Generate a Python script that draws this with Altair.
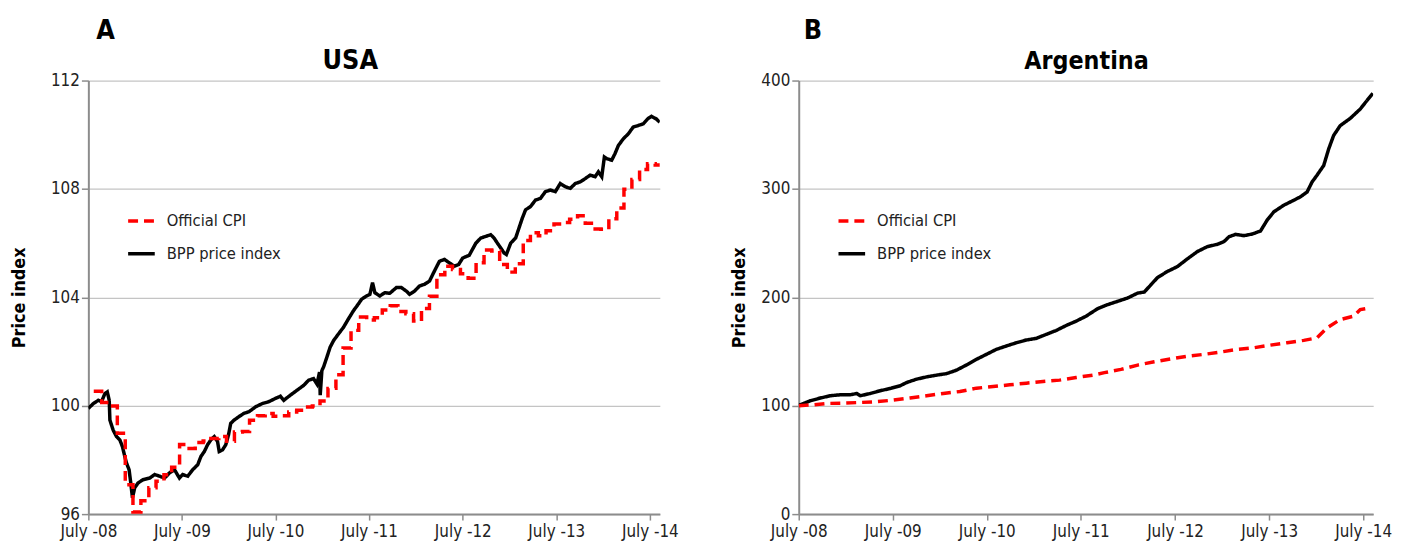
import altair as alt
import pandas as pd

FONT = "DejaVu Sans Condensed, DejaVu Sans, sans-serif"

SERIES = ["Official CPI", "BPP price index"]

# ---------------- USA ----------------
us_bpp_t = [2008.500, 2008.553, 2008.606, 2008.641, 2008.677, 2008.702, 2008.723, 2008.730,
            2008.765, 2008.801, 2008.836, 2008.864, 2008.889, 2008.907, 2008.935, 2008.953,
            2008.971, 2008.995, 2009.031, 2009.084, 2009.155, 2009.208, 2009.261, 2009.314,
            2009.367, 2009.420, 2009.473, 2009.508, 2009.562, 2009.615, 2009.668, 2009.703,
            2009.739, 2009.774, 2009.809, 2009.845, 2009.880, 2009.898, 2009.933, 2009.968,
            2009.997, 2010.021, 2010.057, 2010.110, 2010.163, 2010.217, 2010.287, 2010.358,
            2010.429, 2010.499, 2010.552, 2010.588, 2010.658, 2010.729, 2010.800, 2010.853,
            2010.906, 2010.942, 2010.970, 2010.977, 2010.995, 2011.013, 2011.048, 2011.083,
            2011.119, 2011.172, 2011.225, 2011.278, 2011.331, 2011.384, 2011.419, 2011.472,
            2011.508, 2011.536, 2011.561, 2011.614, 2011.667, 2011.720, 2011.791, 2011.844,
            2011.897, 2011.932, 2011.985, 2012.038, 2012.091, 2012.145, 2012.180, 2012.215,
            2012.251, 2012.304, 2012.357, 2012.410, 2012.456, 2012.499, 2012.569, 2012.640,
            2012.693, 2012.746, 2012.799, 2012.834, 2012.870, 2012.906, 2012.941, 2012.966,
            2013.012, 2013.065, 2013.100, 2013.136, 2013.171, 2013.224, 2013.277, 2013.330,
            2013.383, 2013.436, 2013.489, 2013.542, 2013.596, 2013.649, 2013.702, 2013.755,
            2013.808, 2013.861, 2013.914, 2013.949, 2013.985, 2014.013, 2014.038, 2014.091,
            2014.126, 2014.162, 2014.215, 2014.268, 2014.320, 2014.374, 2014.427, 2014.480,
            2014.516, 2014.569, 2014.604]
us_bpp_v = [99.90, 100.08, 100.20, 100.15, 100.45, 100.51, 100.20, 99.47,
            99.10, 98.86, 98.74, 98.49, 98.13, 97.89, 97.64, 97.15,
            96.60, 96.97, 97.15, 97.27, 97.33, 97.46, 97.40, 97.33,
            97.52, 97.64, 97.33, 97.46, 97.40, 97.64, 97.82, 98.13,
            98.31, 98.56, 98.74, 98.86, 98.68, 98.31, 98.37, 98.56,
            98.92, 99.35, 99.47, 99.60, 99.72, 99.78, 99.96, 100.08,
            100.15, 100.27, 100.35, 100.20, 100.39, 100.57, 100.75, 100.94,
            101.00, 100.80, 101.24, 100.39, 101.30, 101.43, 101.79, 102.16,
            102.40, 102.65, 102.89, 103.20, 103.50, 103.75, 103.93, 104.05,
            104.11, 104.54, 104.17, 104.05, 104.17, 104.15, 104.36, 104.36,
            104.23, 104.11, 104.23, 104.42, 104.48, 104.60, 104.85, 105.09,
            105.33, 105.40, 105.27, 105.15, 105.21, 105.45, 105.55, 106.00,
            106.19, 106.25, 106.31, 106.19, 106.00, 105.82, 105.64, 105.58,
            106.00, 106.19, 106.55, 106.92, 107.23, 107.35, 107.59, 107.65,
            107.90, 107.96, 107.90, 108.20, 108.08, 108.02, 108.20, 108.26,
            108.38, 108.51, 108.45, 108.63, 108.45, 109.18, 109.12, 109.06,
            109.30, 109.60, 109.85, 110.03, 110.28, 110.34, 110.40, 110.60,
            110.68, 110.58, 110.46]

# official CPI, monthly from July 2008 to July 2014
us_cpi = [100.53, 100.12, 99.99, 98.98, 97.08, 96.08,
          96.49, 96.97, 97.21, 97.45, 97.73, 98.57, 98.42, 98.64, 98.70, 98.79, 98.86, 98.69,
          99.03, 99.05, 99.46, 99.63, 99.71, 99.61, 99.63, 99.77, 99.83, 99.95, 99.99, 100.17,
          100.64, 101.14, 102.13, 102.78, 103.27, 103.16, 103.25, 103.53, 103.69, 103.48, 103.39, 103.13,
          103.59, 104.04, 104.83, 105.15, 105.03, 104.87, 104.70, 105.28, 105.75, 105.71, 105.21, 104.93,
          105.24, 106.10, 106.38, 106.27, 106.46, 106.71, 106.76, 106.88, 107.01, 106.73, 106.52, 106.51,
          106.90, 107.30, 107.99, 108.35, 108.72, 108.93, 108.88]

# ---------------- Argentina ----------------
ar_bpp_t = [2008.500, 2008.518, 2008.624, 2008.730, 2008.836, 2008.942, 2009.048, 2009.118,
            2009.154, 2009.260, 2009.365, 2009.471, 2009.577, 2009.647, 2009.753, 2009.859,
            2009.965, 2010.071, 2010.177, 2010.283, 2010.389, 2010.495, 2010.601, 2010.707,
            2010.813, 2010.918, 2011.024, 2011.130, 2011.236, 2011.342, 2011.448, 2011.554,
            2011.678, 2011.784, 2011.890, 2011.996, 2012.102, 2012.173, 2012.243, 2012.314,
            2012.419, 2012.525, 2012.631, 2012.737, 2012.843, 2012.949, 2013.020, 2013.073,
            2013.143, 2013.232, 2013.320, 2013.408, 2013.479, 2013.550, 2013.656, 2013.762,
            2013.832, 2013.903, 2013.956, 2014.008, 2014.080, 2014.133, 2014.185, 2014.255,
            2014.362, 2014.468, 2014.538, 2014.602]
ar_bpp_v = [100.5, 100.9, 104.6, 107.1, 109.2, 110.1, 110.1, 111.3,
            109.2, 111.3, 113.8, 115.9, 118.4, 121.4, 124.5, 126.6,
            128.2, 129.6, 132.8, 137.6, 142.8, 147.4, 152.0, 155.1,
            158.1, 160.6, 162.1, 165.8, 169.4, 174.0, 178.0, 182.6,
            189.6, 193.3, 196.3, 199.4, 203.9, 204.9, 211.6, 218.3,
            223.9, 228.4, 235.5, 242.2, 246.8, 248.9, 251.4, 255.9,
            258.1, 256.9, 258.4, 261.2, 271.3, 278.9, 285.0, 289.6,
            292.7, 297.2, 306.4, 312.6, 321.7, 337.0, 349.3, 358.4,
            365.1, 373.7, 381.4, 388.3]

ar_cpi_t = [2008.500, 2008.659, 2008.800, 2008.977, 2009.154, 2009.329, 2009.506, 2009.683,
            2009.859, 2010.036, 2010.213, 2010.389, 2010.566, 2010.743, 2010.918, 2011.095,
            2011.272, 2011.448, 2011.625, 2011.749, 2011.925, 2012.102, 2012.279, 2012.455,
            2012.631, 2012.808, 2012.984, 2013.161, 2013.338, 2013.514, 2013.691, 2013.868,
            2014.008, 2014.114, 2014.255, 2014.397, 2014.468, 2014.574]
ar_cpi_v = [100.0, 100.9, 102.1, 102.4, 103.0, 103.7, 105.2, 107.1,
            109.2, 111.3, 113.1, 116.2, 117.7, 119.3, 120.8, 122.3,
            123.6, 126.0, 128.2, 130.5, 133.5, 137.5, 140.5, 143.2,
            145.7, 147.4, 149.5, 152.0, 153.5, 155.9, 158.1, 160.3,
            162.6, 171.8, 179.5, 182.6, 188.7, 190.2]

BASE = pd.Timestamp("2008-07-01")
END = pd.Timestamp("2014-08-09")


def to_dates(ts):
    return [BASE + pd.Timedelta(days=(t - 2008.5) * 365.25) for t in ts]


us_bpp_df = pd.DataFrame({"date": to_dates(us_bpp_t), "value": us_bpp_v, "series": "BPP price index"})
cpi_dates = list(pd.date_range("2008-07-01", periods=len(us_cpi), freq="MS") + pd.Timedelta(days=21))
us_cpi_df = pd.DataFrame({"date": cpi_dates + [END], "value": us_cpi + [us_cpi[-1]],
                          "series": "Official CPI"})
ar_bpp_df = pd.DataFrame({"date": to_dates(ar_bpp_t), "value": ar_bpp_v, "series": "BPP price index"})
ar_cpi_df = pd.DataFrame({"date": to_dates(ar_cpi_t), "value": ar_cpi_v, "series": "Official CPI"})

tick_dates = [alt.DateTime(year=y, month=7, date=1) for y in range(2008, 2015)]
x_domain = [alt.DateTime(year=2008, month=7, date=1), alt.DateTime(year=2014, month=8, date=9)]

H = 437


def panel(bpp_df, cpi_df, cpi_interp, ydom, yvals, title, title_x, title_size, letter, letter_x,
          title_pad, width):
    x = alt.X("date:T", scale=alt.Scale(domain=x_domain),
              axis=alt.Axis(values=tick_dates, labelExpr="'July -' + timeFormat(datum.value, '%y')",
                            title=None, grid=False, tickSize=6, labelPadding=4,
                            labelFlush=False, labelOverlap=False))
    y = alt.Y("value:Q", scale=alt.Scale(domain=ydom, nice=False, zero=False),
              axis=alt.Axis(values=yvals, format="d", title="Price index", grid=True,
                            tickSize=7, labelPadding=2, titlePadding=title_pad))
    leg = alt.Legend(title=None, orient="none", legendX=38, legendY=126, symbolType="stroke",
                     symbolSize=720, symbolStrokeWidth=3.5, labelFontSize=16.5, labelFont=FONT,
                     labelColor="#222222", rowPadding=9, labelOffset=10)
    color = alt.Color("series:N", scale=alt.Scale(domain=SERIES, range=["#ff0000", "#000000"]), legend=leg)
    dash = alt.StrokeDash("series:N", scale=alt.Scale(domain=SERIES, range=[[10, 6], [1, 0]]), legend=leg)
    black = alt.Chart(bpp_df).mark_line(strokeWidth=3.5, clip=True).encode(x=x, y=y, color=color, strokeDash=dash)
    red = alt.Chart(cpi_df).mark_line(strokeWidth=3.5, interpolate=cpi_interp, clip=True).encode(
        x=x, y=y, color=color, strokeDash=dash)
    lab = alt.Chart(pd.DataFrame({"t": [letter]})).mark_text(
        align="left", baseline="alphabetic", fontSize=27, fontWeight="bold", font=FONT, color="#000000"
    ).encode(text="t:N", x=alt.value(letter_x), y=alt.value(-42))
    ttl = alt.Chart(pd.DataFrame({"t": [title]})).mark_text(
        align="center", baseline="alphabetic", fontSize=title_size, fontWeight="bold", font=FONT, color="#000000"
    ).encode(text="t:N", x=alt.value(title_x), y=alt.value(-12))
    return alt.layer(black, red, lab, ttl).properties(width=width, height=H)


pa = panel(us_bpp_df, us_cpi_df, "step-after", [96, 112], [96, 100, 104, 108, 112],
           "USA", 264, 27, "A", 8, 22, 576)
pb = panel(ar_bpp_df, ar_cpi_df, "linear", [0, 400], [0, 100, 200, 300, 400],
           "Argentina", 290, 25, "B", 5, 12, 579)

chart = alt.hconcat(pa, pb, spacing=51).resolve_scale(
    color="independent", strokeDash="independent", x="independent", y="independent"
).resolve_legend(color="independent", strokeDash="independent").configure_view(
    stroke="transparent"
).configure_axis(
    domainColor="#8c8c8c", domainWidth=2, tickColor="#8c8c8c", tickWidth=1.5,
    gridColor="#c4c4c4", gridWidth=1.2, labelFont=FONT, labelFontSize=17, labelColor="#222222",
    titleFont=FONT, titleFontSize=18, titleFontWeight="bold", titleColor="#000000"
).properties(padding={"left": 2, "top": 6, "right": 2, "bottom": 0})

chart.save("out.html", embed_options={"renderer": "svg", "actions": False})
